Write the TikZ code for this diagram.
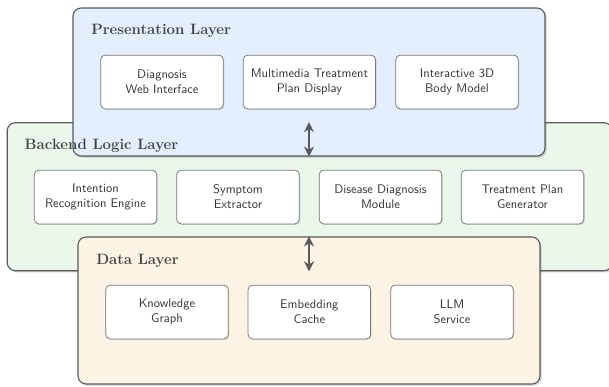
\documentclass[tikz,border=0pt]{standalone}
\usetikzlibrary{arrows.meta,shadows}
\definecolor{presfill}{HTML}{E3EFFD}
\definecolor{backfill}{HTML}{EAF7EA}
\definecolor{datafill}{HTML}{FDF3E5}
\definecolor{edgegray}{HTML}{5A5A5A}
\definecolor{titlegray}{HTML}{444444}
\definecolor{textgray}{HTML}{333333}
\definecolor{boxedge}{HTML}{777777}
\tikzset{
  layer/.style={draw=edgegray, line width=0.9pt, rounded corners=6.5pt,
    drop shadow={shadow xshift=1.3pt, shadow yshift=-1.3pt, fill=black, opacity=0.18},
    inner sep=0pt},
  layertitle/.style={anchor=base west, font=\large\bfseries, text=titlegray, inner sep=0pt},
  comp/.style={draw=boxedge, line width=0.6pt, fill=white, rounded corners=3.5pt,
    minimum width=98pt, minimum height=43pt, inner xsep=6pt, align=center,
    font=\sffamily, text=textgray,
    drop shadow={shadow xshift=0.8pt, shadow yshift=-0.8pt, fill=black, opacity=0.12}},
  link/.style={draw=edgegray, line width=2pt, {Stealth[length=8pt,width=8pt]}-{Stealth[length=8pt,width=8pt]}}
}
\begin{document}
\begin{tikzpicture}[x=0.8pt,y=-0.8pt]
\useasboundingbox (0,0) rectangle (609,386);
% layer boxes
\node[layer, fill=backfill, minimum width=484pt, minimum height=118.4pt] (back) at (309.7,196.7) {};
\node[layer, fill=presfill, minimum width=377.6pt, minimum height=118.4pt] (pres) at (309,82) {};
\node[layer, fill=datafill, minimum width=369.6pt, minimum height=117.6pt] (data) at (309,310.5) {};
% titles
\node[layertitle] (prest) at (91,34) {Presentation Layer};
\node[layertitle] (backt) at (24.5,149) {Backend Logic Layer};
\node[layertitle] (datat) at (96,264) {Data Layer};
% presentation components
\node[comp] (p1) at (162,82) {Diagnosis\\Web Interface};
\node[comp] (p2) at (309.4,82) {Multimedia Treatment\\Plan Display};
\node[comp] (p3) at (457,82) {Interactive 3D\\Body Model};
% backend components
\node[comp] (b1) at (95.5,197) {Intention\\Recognition Engine};
\node[comp] (b2) at (238,197) {Symptom\\Extractor};
\node[comp] (b3) at (380.5,197) {Disease Diagnosis\\Module};
\node[comp] (b4) at (522.5,197) {Treatment Plan\\Generator};
% data components
\node[comp] (d1) at (167,312) {Knowledge\\Graph};
\node[comp] (d2) at (309.3,312) {Embedding\\Cache};
\node[comp] (d3) at (452,312) {LLM\\Service};
% arrows
\draw[link] (pres.south) -- (pres.south |- back.north);
\draw[link] (data.north) -- (data.north |- back.south);
\end{tikzpicture}
\end{document}
